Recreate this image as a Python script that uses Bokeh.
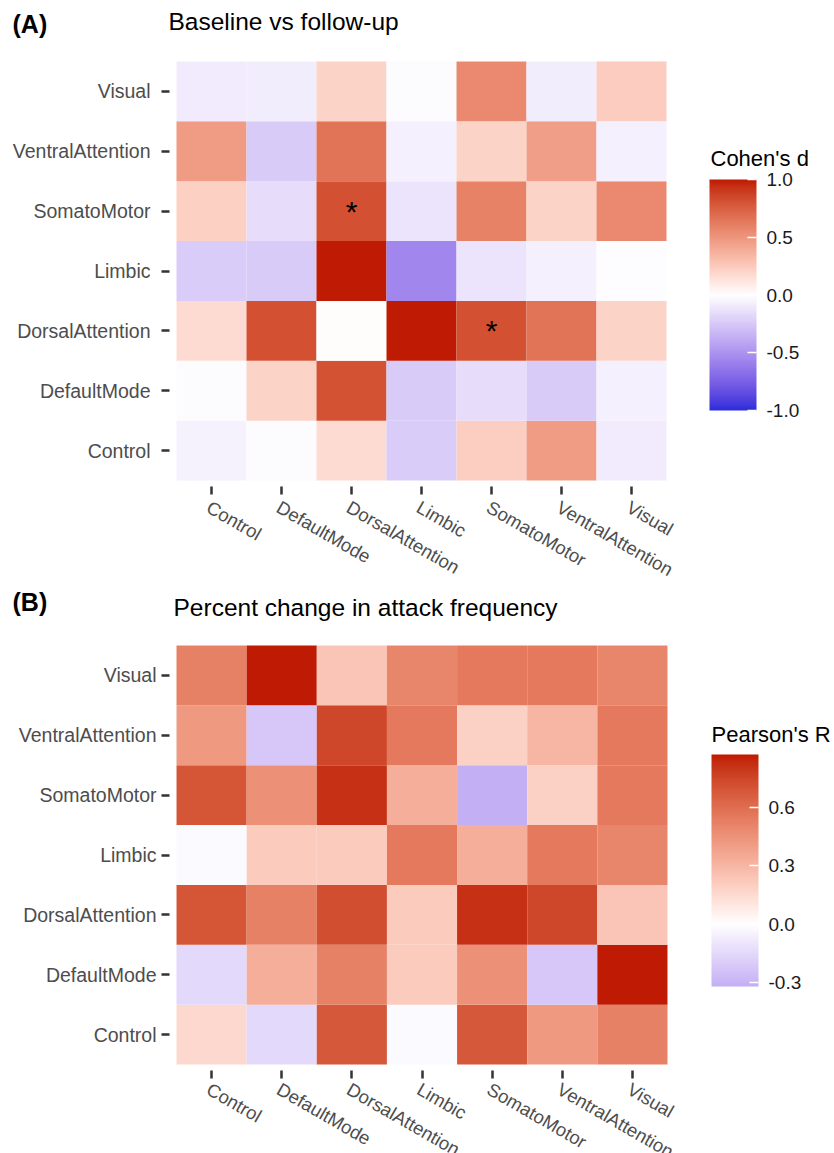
import math
import numpy as np
from bokeh.plotting import figure
from bokeh.models import (ColumnDataSource, LinearColorMapper, ColorBar, FixedTicker,
                          PrintfTickFormatter, Label, FactorRange, Range1d)
from bokeh.layouts import column
from bokeh.core.properties import value
from bokeh.embed import file_html
from bokeh.resources import INLINE

FONT = "Liberation Sans"

networks = ["Control", "DefaultMode", "DorsalAttention", "Limbic",
            "SomatoMotor", "VentralAttention", "Visual"]

# Baseline vs follow-up, Cohen's d. One list per row network, values in `networks` column order.
cohen_control = [-0.06, -0.02, 0.17, -0.23, 0.23, 0.47, -0.09]
cohen_defaultmode = [-0.02, 0.21, 0.81, -0.24, -0.15, -0.24, -0.07]
cohen_dorsalattention = [0.17, 0.82, 0.01, 1.00, 0.82, 0.66, 0.21]
cohen_limbic = [-0.23, -0.24, 1.00, -0.56, -0.12, -0.07, -0.01]
cohen_somatomotor = [0.22, -0.15, 0.82, -0.12, 0.59, 0.21, 0.56]
cohen_ventralattention = [0.47, -0.24, 0.66, -0.07, 0.21, 0.46, -0.07]
cohen_visual = [-0.09, -0.08, 0.21, -0.02, 0.56, -0.08, 0.24]
cohen_ticks = [-1.0, -0.5, 0.0, 0.5, 1.0]
cohen_limits = [-1.0, 1.0]

# significant cells (column network, row network)
star_cols = ["DorsalAttention", "SomatoMotor"]
star_rows = ["SomatoMotor", "DorsalAttention"]

# Percent change in attack frequency, Pearson's R.
pearson_control = [0.16, -0.15, 0.68, -0.02, 0.68, 0.42, 0.52]
pearson_defaultmode = [-0.15, 0.335, 0.52, 0.21, 0.455, -0.22, 0.87]
pearson_dorsalattention = [0.69, 0.52, 0.72, 0.21, 0.81, 0.74, 0.24]
pearson_limbic = [-0.02, 0.21, 0.21, 0.55, 0.335, 0.55, 0.50]
pearson_somatomotor = [0.69, 0.455, 0.81, 0.335, -0.32, 0.19, 0.55]
pearson_ventralattention = [0.42, -0.22, 0.74, 0.55, 0.19, 0.30, 0.55]
pearson_visual = [0.52, 0.87, 0.24, 0.50, 0.55, 0.55, 0.50]
pearson_ticks = [-0.3, 0.0, 0.3, 0.6]

cohen_rows = [cohen_control, cohen_defaultmode, cohen_dorsalattention, cohen_limbic,
              cohen_somatomotor, cohen_ventralattention, cohen_visual]
pearson_rows = [pearson_control, pearson_defaultmode, pearson_dorsalattention, pearson_limbic,
                pearson_somatomotor, pearson_ventralattention, pearson_visual]

LOW, MID, HIGH = "#2a2edb", "#ffffff", "#bf1a03"
FRAME_LEFT = 169   # shared left edge of both heatmap frames


def hex_to_lab(h):
    h = h.lstrip("#")
    rgb = [int(h[i:i + 2], 16) / 255 for i in (0, 2, 4)]
    r, g, b = [c / 12.92 if c <= 0.04045 else ((c + 0.055) / 1.055) ** 2.4 for c in rgb]
    x = (0.4124 * r + 0.3576 * g + 0.1805 * b) / 0.95047
    y = 0.2126 * r + 0.7152 * g + 0.0722 * b
    z = (0.0193 * r + 0.1192 * g + 0.9505 * b) / 1.08883

    def f(t):
        return t ** (1 / 3) if t > 216 / 24389 else (24389 / 27 * t + 16) / 116

    fx, fy, fz = f(x), f(y), f(z)
    return (116 * fy - 16, 500 * (fx - fy), 200 * (fy - fz))


def lab_to_hex(L, a, b):
    fy = (L + 16) / 116
    fx = fy + a / 500
    fz = fy - b / 200

    def finv(t):
        return t ** 3 if t ** 3 > 216 / 24389 else (116 * t - 16) / (24389 / 27)

    x, y, z = finv(fx) * 0.95047, finv(fy), finv(fz) * 1.08883
    r = 3.2406 * x - 1.5372 * y - 0.4986 * z
    g = -0.9689 * x + 1.8758 * y + 0.0415 * z
    bb = 0.0557 * x - 0.2040 * y + 1.0570 * z

    def gam(c):
        c = min(max(c, 0.0), 1.0)
        return 12.92 * c if c <= 0.0031308 else 1.055 * c ** (1 / 2.4) - 0.055

    return "#%02x%02x%02x" % tuple(int(round(gam(c) * 255)) for c in (r, g, bb))


LOW_LAB, MID_LAB, HIGH_LAB = hex_to_lab(LOW), hex_to_lab(MID), hex_to_lab(HIGH)


def diverging_palette(lo, hi, n=256):
    """Lab-space three-colour gradient, midpoint at zero, scaled by the larger |limit|."""
    span = max(abs(lo), abs(hi))
    out = []
    for v in np.linspace(lo, hi, n):
        t = v / span
        end = HIGH_LAB if t >= 0 else LOW_LAB
        t = abs(t)
        out.append(lab_to_hex(*[m + (e - m) * t for m, e in zip(MID_LAB, end)]))
    return out


def heatmap(rows, limits, ticks, bar_title, heading, tag, geom, stars=None):
    xs, ys, vs = [], [], []
    for rname, vals in zip(networks, rows):
        for cname, v in zip(networks, vals):
            xs.append(cname)
            ys.append(rname)
            vs.append(v)
    src = ColumnDataSource(dict(x=xs, y=ys, v=vs))
    lo, hi = limits
    mapper = LinearColorMapper(palette=diverging_palette(lo, hi), low=lo, high=hi)

    fw, fh = geom["frame"]
    p = figure(frame_width=fw, frame_height=fh,
               x_range=FactorRange(factors=networks, range_padding=0.1, range_padding_units="absolute"),
               y_range=FactorRange(factors=networks, range_padding=0.1, range_padding_units="absolute"),
               output_backend="svg", toolbar_location=None,
               min_border_left=FRAME_LEFT, min_border_right=834 - FRAME_LEFT - fw,
               min_border_top=geom["top"], min_border_bottom=10)
    p.rect(x="x", y="y", width=1, height=1, source=src,
           fill_color={"field": "v", "transform": mapper}, line_color=None)

    if stars:
        p.text(x=stars[0], y=stars[1], text=["*"] * len(stars[0]),
               text_font=value(FONT), text_font_size="30px", text_color="black",
               text_align="center", text_baseline="middle")

    p.xgrid.grid_line_color = None
    p.ygrid.grid_line_color = None
    p.outline_line_color = None
    p.axis.axis_line_color = None
    p.axis.major_tick_line_color = "#333333"
    p.axis.major_tick_line_width = 2.5
    p.axis.major_tick_out = 8
    p.axis.major_tick_in = 0
    p.axis.minor_tick_line_color = None
    p.yaxis.major_label_text_font = FONT
    p.yaxis.major_label_text_font_size = "19.5px"
    p.yaxis.major_label_text_color = "#4d4d4d"
    p.yaxis.major_label_standoff = geom["ystandoff"]
    # the slanted column names are set in a strip below (see name_strip)
    p.xaxis.major_label_text_font_size = "0px"
    p.xaxis.major_label_text_color = None
    p.xaxis.major_label_standoff = 0

    cb = ColorBar(color_mapper=mapper, ticker=FixedTicker(ticks=ticks),
                  formatter=PrintfTickFormatter(format="%.1f"),
                  width=47, height=geom["bar_h"], location=geom["bar"], padding=0,
                  major_label_text_font=FONT, major_label_text_font_size="19px",
                  major_label_text_color="#1a1a1a", label_standoff=10,
                  major_tick_line_color="white", major_tick_line_width=1.5,
                  major_tick_in=9, major_tick_out=0,
                  bar_line_color=None, border_line_color=None, background_fill_alpha=0)
    p.add_layout(cb, "center")

    # heading sits in the band right above the frame, the panel tag in the band above that
    hx, hy = geom["heading"]
    p.add_layout(Label(x=hx, y=hy, x_units="screen", y_units="screen", text=heading,
                       text_font=FONT, text_font_size="24.5px", text_color="black",
                       text_baseline="middle"), "above")
    tx, ty = geom["tag"]
    p.add_layout(Label(x=tx, y=ty, x_units="screen", y_units="screen", text=tag,
                       text_font=FONT, text_font_size="25px", text_font_style="bold",
                       text_color="black", text_baseline="middle"), "above")
    # colour-bar title in the band right of the frame
    bx, by = geom["bar_title"]
    p.add_layout(Label(x=bx, y=by, x_units="screen", y_units="screen", text=bar_title,
                       text_font=FONT, text_font_size="22px", text_color="black",
                       text_baseline="middle"), "right")
    return p


def name_strip(frame_w, height, y_offset):
    """Slanted column names under a heatmap; same column pitch as the heatmap,
    with two spare slots on the right so the long names are not cut."""
    cell = frame_w / 7.2
    spare = ["pad_1", "pad_2"]
    s = figure(frame_width=int(round(cell * (7 + len(spare) + 0.2))), frame_height=height,
               x_range=FactorRange(factors=networks + spare, range_padding=0.1,
                                   range_padding_units="absolute"),
               y_range=Range1d(0, 1), output_backend="svg", toolbar_location=None,
               x_axis_location=None, y_axis_location=None,
               min_border_left=FRAME_LEFT, min_border_right=0, min_border_top=0, min_border_bottom=0)
    s.text(x=networks, y=[1] * len(networks), text=networks, angle=-math.pi / 6,
           x_offset=2, y_offset=y_offset,
           text_font=value(FONT), text_font_size="18.5px", text_color="#4d4d4d",
           text_align="left", text_baseline="top")
    s.xgrid.grid_line_color = None
    s.ygrid.grid_line_color = None
    s.outline_line_color = None
    return s


pa = heatmap(cohen_rows, cohen_limits, cohen_ticks, "Cohen's d", "Baseline vs follow-up", "(A)",
             geom=dict(top=55, frame=(504, 431), bar=(540, 76), bar_h=231, ystandoff=11,
                       heading=(-1, 34), tag=(-157, 5), bar_title=(37, 328)),
             stars=(star_cols, star_rows))
sa = name_strip(504, 88, 0)

pearson_all = [v for r in pearson_rows for v in r]
pb = heatmap(pearson_rows, [min(pearson_all), max(pearson_all)], pearson_ticks, "Pearson's R",
             "Percent change in attack frequency", "(B)",
             geom=dict(top=54, frame=(505, 431), bar=(542, 84), bar_h=232, ystandoff=5,
                       heading=(4, 32.5), tag=(-157, 11), bar_title=(37, 336)))
sb = name_strip(505, 74, -2)

layout = column(pa, sa, pb, sb, spacing=0)
open("out.html", "w").write(file_html(layout, INLINE))
